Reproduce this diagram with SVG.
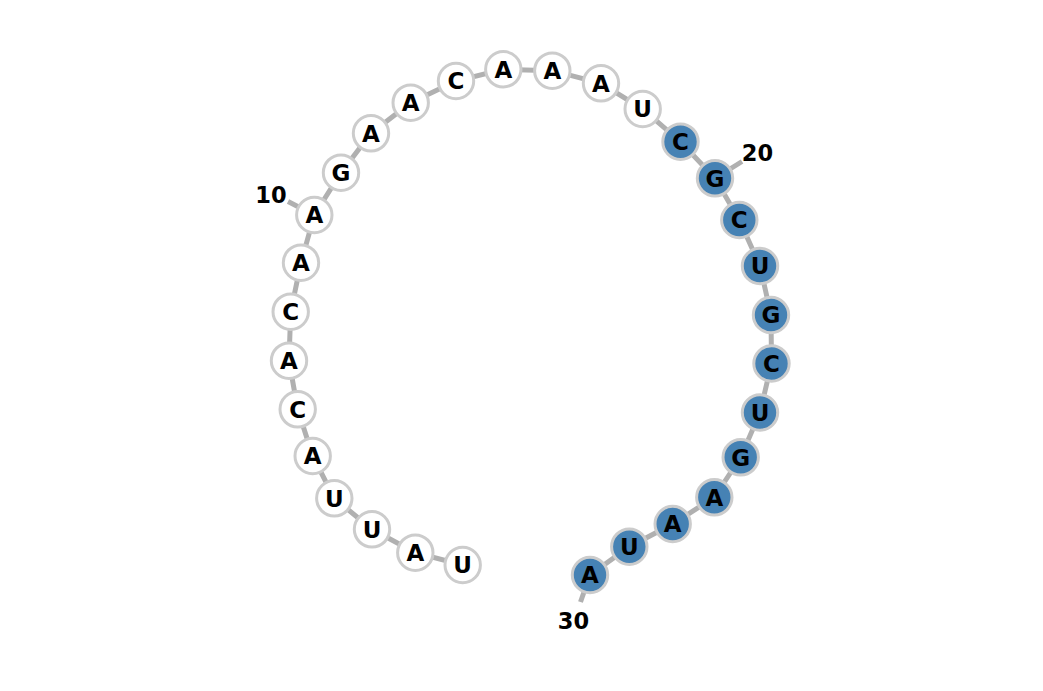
<svg xmlns="http://www.w3.org/2000/svg" width="1043" height="691" viewBox="0 0 1043 691">
<style>
.lk{stroke:#b0b0b0;stroke-width:5;fill:none}
.n circle{stroke:#cccccc;stroke-width:3;fill:#ffffff}
.n.b circle{fill:#4682b4}
.n text,.num{font-family:"DejaVu Sans",Verdana,sans-serif;font-weight:bold;font-size:23px;fill:#000;text-anchor:middle}
.num{font-size:22.5px}
</style>
<rect width="1043" height="691" fill="#ffffff"/>
<g id="connectors">
<polyline class="lk" points="462.7,565 415.3,552.7 372,529.3 334.3,498.3 312.7,456 297.7,409.3 289,360.7 290.7,311.7 301,262.7 314.3,215 341,172.7 371,133.3 410.7,102.7 456,81 503.3,69.3 552.3,70.7 601,83.3 642.7,109 680.5,141.7 715,178.3 739.3,220 760,266 771,315 771.5,363.5 760,412.5 740.7,457.3 714.3,497.3 672.7,524 629.3,546.7 590,575"/>
<line class="lk" x1="314.3" y1="215" x2="288" y2="201.5"/>
<line class="lk" x1="715" y1="178.3" x2="742" y2="161.5"/>
<line class="lk" x1="590" y1="575" x2="580.5" y2="602"/>
</g>
<g id="n1" class="n"><circle cx="462.7" cy="565" r="17.7"/><text x="462.7" y="573.4">U</text></g>
<g id="n2" class="n"><circle cx="415.3" cy="552.7" r="17.7"/><text x="415.3" y="561.1">A</text></g>
<g id="n3" class="n"><circle cx="372" cy="529.3" r="17.7"/><text x="372" y="537.7">U</text></g>
<g id="n4" class="n"><circle cx="334.3" cy="498.3" r="17.7"/><text x="334.3" y="506.7">U</text></g>
<g id="n5" class="n"><circle cx="312.7" cy="456" r="17.7"/><text x="312.7" y="464.4">A</text></g>
<g id="n6" class="n"><circle cx="297.7" cy="409.3" r="17.7"/><text x="297.7" y="417.7">C</text></g>
<g id="n7" class="n"><circle cx="289" cy="360.7" r="17.7"/><text x="289" y="369.1">A</text></g>
<g id="n8" class="n"><circle cx="290.7" cy="311.7" r="17.7"/><text x="290.7" y="320.1">C</text></g>
<g id="n9" class="n"><circle cx="301" cy="262.7" r="17.7"/><text x="301" y="271.1">A</text></g>
<g id="n10" class="n"><circle cx="314.3" cy="215" r="17.7"/><text x="314.3" y="223.4">A</text></g>
<g id="n11" class="n"><circle cx="341" cy="172.7" r="17.7"/><text x="341" y="181.1">G</text></g>
<g id="n12" class="n"><circle cx="371" cy="133.3" r="17.7"/><text x="371" y="141.7">A</text></g>
<g id="n13" class="n"><circle cx="410.7" cy="102.7" r="17.7"/><text x="410.7" y="111.1">A</text></g>
<g id="n14" class="n"><circle cx="456" cy="81" r="17.7"/><text x="456" y="89.4">C</text></g>
<g id="n15" class="n"><circle cx="503.3" cy="69.3" r="17.7"/><text x="503.3" y="77.7">A</text></g>
<g id="n16" class="n"><circle cx="552.3" cy="70.7" r="17.7"/><text x="552.3" y="79.1">A</text></g>
<g id="n17" class="n"><circle cx="601" cy="83.3" r="17.7"/><text x="601" y="91.7">A</text></g>
<g id="n18" class="n"><circle cx="642.7" cy="109" r="17.7"/><text x="642.7" y="117.4">U</text></g>
<g id="n19" class="n b"><circle cx="680.5" cy="141.7" r="17.7"/><text x="680.5" y="150.1">C</text></g>
<g id="n20" class="n b"><circle cx="715" cy="178.3" r="17.7"/><text x="715" y="186.7">G</text></g>
<g id="n21" class="n b"><circle cx="739.3" cy="220" r="17.7"/><text x="739.3" y="228.4">C</text></g>
<g id="n22" class="n b"><circle cx="760" cy="266" r="17.7"/><text x="760" y="274.4">U</text></g>
<g id="n23" class="n b"><circle cx="771" cy="315" r="17.7"/><text x="771" y="323.4">G</text></g>
<g id="n24" class="n b"><circle cx="771.5" cy="363.5" r="17.7"/><text x="771.5" y="371.9">C</text></g>
<g id="n25" class="n b"><circle cx="760" cy="412.5" r="17.7"/><text x="760" y="420.9">U</text></g>
<g id="n26" class="n b"><circle cx="740.7" cy="457.3" r="17.7"/><text x="740.7" y="465.7">G</text></g>
<g id="n27" class="n b"><circle cx="714.3" cy="497.3" r="17.7"/><text x="714.3" y="505.7">A</text></g>
<g id="n28" class="n b"><circle cx="672.7" cy="524" r="17.7"/><text x="672.7" y="532.4">A</text></g>
<g id="n29" class="n b"><circle cx="629.3" cy="546.7" r="17.7"/><text x="629.3" y="555.1">U</text></g>
<g id="n30" class="n b"><circle cx="590" cy="575" r="17.7"/><text x="590" y="583.4">A</text></g>
<g id="labels">
<text class="num" x="271" y="203">10</text>
<text class="num" x="757.5" y="161">20</text>
<text class="num" x="573.5" y="629">30</text>
</g>
</svg>
